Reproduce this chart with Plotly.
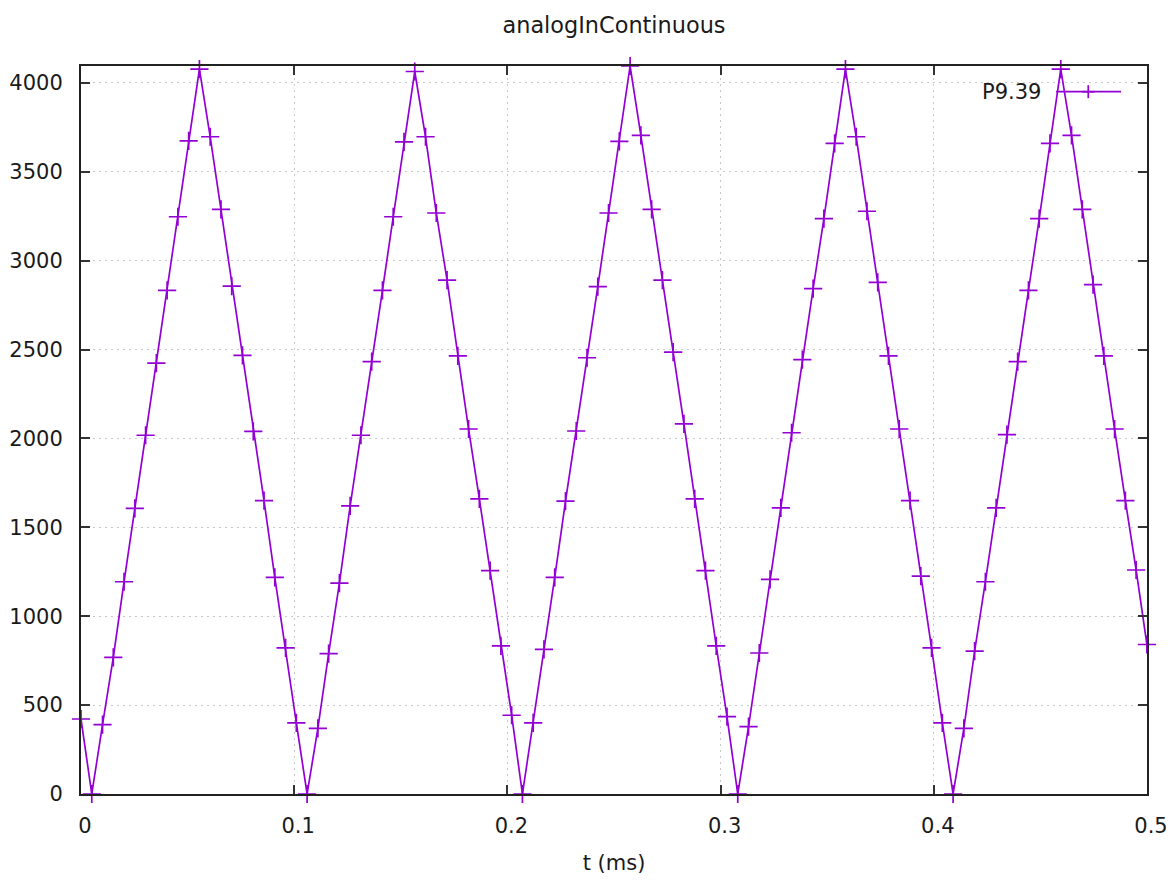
import plotly.graph_objs as go

# samples (pin P9.39)
t_ms = [0, 0.00505, 0.0101, 0.01515, 0.0202, 0.02525, 0.0303, 0.03535, 0.0404, 0.04545,
        0.0505, 0.05555, 0.0606, 0.06565, 0.0707, 0.07575, 0.0808, 0.08585, 0.0909, 0.09595,
        0.101, 0.10605, 0.1111, 0.11615, 0.1212, 0.12625, 0.1313, 0.13635, 0.1414, 0.14645,
        0.1515, 0.15655, 0.1616, 0.16665, 0.1717, 0.17675, 0.1818, 0.18685, 0.1919, 0.19695,
        0.202, 0.20705, 0.2121, 0.21715, 0.2222, 0.22725, 0.2323, 0.23735, 0.2424, 0.24745,
        0.2525, 0.25755, 0.2626, 0.26765, 0.2727, 0.27775, 0.2828, 0.28785, 0.2929, 0.29795,
        0.303, 0.30805, 0.3131, 0.31815, 0.3232, 0.32825, 0.3333, 0.33835, 0.3434, 0.34845,
        0.3535, 0.35855, 0.3636, 0.36865, 0.3737, 0.37875, 0.3838, 0.38885, 0.3939, 0.39895,
        0.404, 0.40905, 0.4141, 0.41915, 0.4242, 0.42925, 0.4343, 0.43935, 0.4444, 0.44945,
        0.4545, 0.45955, 0.4646, 0.46965, 0.4747, 0.47975, 0.4848, 0.48985, 0.4949, 0.49995]

p9_39 = [422, 0, 390, 769, 1194, 1607, 2018, 2424, 2833, 3247,
         3674, 4077, 3697, 3289, 2857, 2467, 2040, 1650, 1218, 822,
         400, 0, 369, 790, 1186, 1621, 2018, 2432, 2833, 3247,
         3668, 4064, 3697, 3268, 2891, 2464, 2053, 1660, 1257, 833,
         443, 0, 400, 814, 1218, 1647, 2042, 2454, 2854, 3268,
         3671, 4095, 3705, 3289, 2891, 2485, 2082, 1660, 1257, 833,
         435, 0, 379, 793, 1207, 1610, 2032, 2443, 2843, 3236,
         3660, 4077, 3697, 3278, 2878, 2464, 2053, 1650, 1225, 822,
         400, 0, 369, 804, 1194, 1610, 2021, 2432, 2833, 3236,
         3660, 4077, 3705, 3289, 2865, 2464, 2053, 1650, 1260, 841]

series_name = 'P9.39'
x_ticks = [0, 0.1, 0.2, 0.3, 0.4, 0.5]
x_labels = ['0', '0.1', '0.2', '0.3', '0.4', '0.5']
y_ticks = [0, 500, 1000, 1500, 2000, 2500, 3000, 3500, 4000]

purple = '#9400d3'
ink = '#1a1a1a'

trace = go.Scatter(
    x=t_ms,
    y=p9_39,
    mode='lines+markers',
    name=series_name,
    line=dict(color=purple, width=1.7),
    marker=dict(symbol='cross-thin', size=13, line=dict(color=purple, width=1.7)),
    cliponaxis=False,
    showlegend=False
)

axis_style = dict(
    showline=True, linecolor='#222', linewidth=2, mirror='ticks',
    ticks='inside', ticklen=9, tickwidth=2, tickcolor='#333',
    showgrid=True, gridcolor='#c8c8c8', gridwidth=1, griddash='2px,4px',
    zeroline=False, automargin=False, tickfont=dict(size=21, color=ink)
)

# the page body adds an 8px offset, so the figure is 8px smaller than the window
layout = go.Layout(
    width=1166, height=872,
    margin=dict(l=73, r=27, t=58, b=86),
    paper_bgcolor='white', plot_bgcolor='white',
    font=dict(family='DejaVu Sans', size=21, color=ink),
    title=dict(text='analogInContinuous', xref='paper', x=0.5, xanchor='center',
               y=0.9805, yanchor='middle', font=dict(size=22.4)),
    xaxis=dict(axis_style, range=[0, 0.5], tickvals=x_ticks, ticktext=x_labels,
               ticklabelstandoff=12, ticklabelshift=4,
               title=dict(text='t (ms)', standoff=18, font=dict(size=21))),
    yaxis=dict(axis_style, range=[0, 4095], tickvals=y_ticks, ticklabelstandoff=12),
)

fig = go.Figure(data=[trace], layout=layout)

# gnuplot style key: label on the left, line sample with a point on the right
key_y = 0.9647
fig.add_annotation(text=series_name, xref='paper', yref='paper', x=0.9024, y=key_y,
                   xanchor='right', yanchor='middle', showarrow=False, font=dict(size=21, color=ink))
fig.add_shape(type='line', xref='paper', yref='paper', x0=0.9146, x1=0.9756, y0=key_y, y1=key_y,
              line=dict(color=purple, width=1.7))
fig.add_shape(type='line', xref='paper', yref='paper', xsizemode='pixel', xanchor=0.9449,
              x0=-6.5, x1=6.5, y0=key_y, y1=key_y, line=dict(color=purple, width=1.7))
fig.add_shape(type='line', xref='paper', yref='paper', ysizemode='pixel', yanchor=key_y,
              x0=0.9449, x1=0.9449, y0=-6.5, y1=6.5, line=dict(color=purple, width=1.7))

fig.write_html("out.html")
